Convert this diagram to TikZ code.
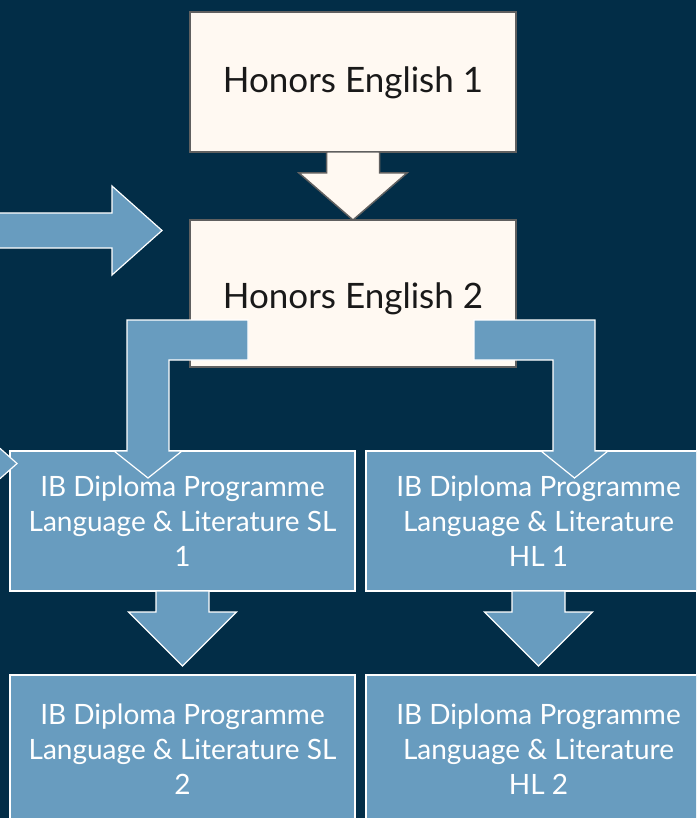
\documentclass[tikz,border=0pt]{standalone}
\usepackage{fontspec}
\setmainfont{Lato}
\usetikzlibrary{positioning,calc}
\definecolor{navy}{HTML}{022D47}
\definecolor{paleblue}{HTML}{689CBF}
\definecolor{cream}{HTML}{FFF9F2}
\definecolor{edgegray}{HTML}{606060}
\tikzset{
  creambox/.style={draw=edgegray,fill=cream,line width=1.5pt,minimum width=326pt,
    text=black!90,inner sep=0pt,outer sep=0pt,text depth=7pt,
    font=\fontsize{35}{40}\selectfont},
  bluebox/.style={draw=white,fill=paleblue,line width=1.2pt,minimum width=345pt,
    minimum height=140pt,text=white,align=center,inner sep=0pt,outer sep=0pt,
    font=\fontsize{28}{35}\selectfont},
  creamarrow/.style={draw=edgegray,fill=cream,line width=1.5pt,line join=miter},
  bluearrow/.style={draw=white,fill=paleblue,line width=1.2pt,line join=miter}
}
% block arrow pointing down: style, from node, to node, gap above the tip
\newcommand{\dropfrom}[4]{%
  \draw[#1] ($(#2.south)+(-26.5,0)$) -- ++(0,21) -- ++(-27.5,0)
    -- ($(#3.north)+(0,-#4)$) -- ($(#2.south)+(54,21)$) -- ++(-27.5,0)
    -- ($(#2.south)+(26.5,0)$) -- cycle;}

\begin{document}
\begin{tikzpicture}[x=1pt,y=-1pt]
    \useasboundingbox (0,0) rectangle (696,818);
    \fill[navy] (0,0) rectangle (696,818);
    \clip (0,0) rectangle (696,818);
    % honors track
    \node[creambox,minimum height=140pt,text height=29pt] (he1) at (353,82) {Honors English 1};
    \node[creambox,minimum height=147pt,text height=37pt,below=68pt of he1] (he2) {Honors English 2};
    \dropfrom{creamarrow}{he1}{he2}{0}
    % IB track
    \node[bluebox] (sl1) at (182.5,521) {IB Diploma Programme\\Language \& Literature SL\\1};
    \node[bluebox] (hl1) at (538.5,521) {IB Diploma Programme\\Language \& Literature\\HL 1};
    \node[bluebox,minimum height=148pt,below=84pt of sl1] (sl2) {IB Diploma Programme\\Language \& Literature SL\\2};
    \node[bluebox,minimum height=148pt,below=84pt of hl1] (hl2) {IB Diploma Programme\\Language \& Literature\\HL 2};
    \dropfrom{bluearrow}{sl1}{sl2}{9}
    \dropfrom{bluearrow}{hl1}{hl2}{9}
    % branches out of honors english 2
    \draw[bluearrow] (248,320) -- (127,320) -- (127,451) -- (114,451) -- (148,478)
        -- (182,451) -- (169,451) -- (169,360) -- (248,360) -- cycle;
    \draw[bluearrow] (474,320) -- (595,320) -- (595,451) -- (608,451) -- (574.5,478)
        -- (541,451) -- (553,451) -- (553,360) -- (474,360) -- cycle;
    % entries from the left
    \coordinate (in1) at (162,230.5);
    \coordinate (in2) at (17,463.5);
    \draw[bluearrow] (-10,213) -- (112,213) -- (112,186) -- (in1) -- (112,275)
        -- (112,248) -- (-10,248) -- cycle;
    \draw[bluearrow] (-80,446) -- (-33,446) -- (-33,419) -- (in2) -- (-33,508)
        -- (-33,481) -- (-80,481) -- cycle;
\end{tikzpicture}
\end{document}
